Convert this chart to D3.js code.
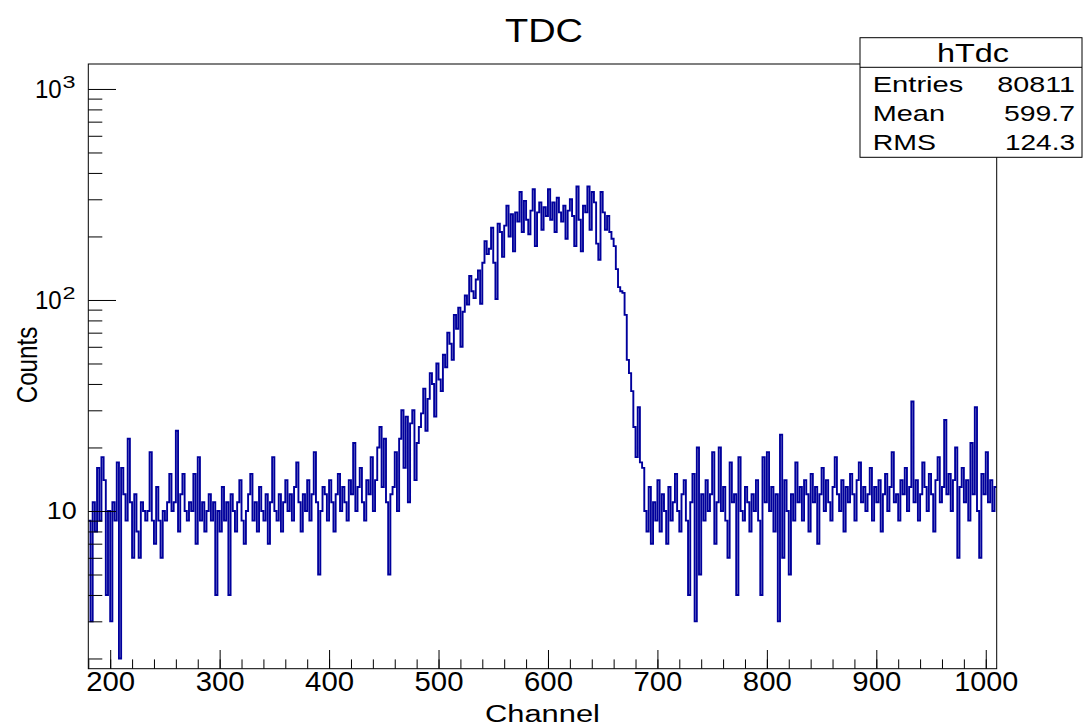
<!DOCTYPE html>
<html>
<head>
<meta charset="utf-8">
<script src="https://cdn.jsdelivr.net/npm/d3@7"></script>
<style>
  body { margin: 0; background: #fff; }
  text { font-family: "Liberation Sans", Arial, sans-serif; fill: #000; }
</style>
</head>
<body>
<div id="chart"></div>
<script>
// histogram hTdc : 2 channels per bin, from channel 180 to 1010
var binStart = 180;
var binWidth = 2;
var counts = [
  9, 3, 11, 8, 16, 9, 18, 14, 4, 10,
  3, 11, 9, 17, 2, 16, 12, 9, 22, 11,
  6, 12, 8, 6, 11, 10, 9, 10, 19, 9,
  7, 13, 9, 6, 10, 9, 11, 15, 10, 11,
  24, 8, 12, 15, 10, 9, 11, 10, 15, 7,
  18, 9, 11, 8, 10, 12, 9, 11, 4, 10,
  8, 13, 9, 11, 4, 12, 10, 8, 11, 14,
  9, 7, 10, 12, 15, 9, 11, 8, 13, 10,
  9, 12, 7, 11, 18, 10, 9, 12, 8, 11,
  14, 10, 12, 9, 13, 17, 11, 8, 12, 10,
  14, 9, 12, 19, 11, 5, 10, 13, 12, 9,
  14, 11, 8, 12, 15, 10, 13, 11, 9, 14,
  12, 21, 10, 13, 16, 11, 9, 14, 12, 18,
  10, 14, 20, 25, 13, 22, 11, 5, 12, 13,
  19, 10, 22, 30, 16, 28, 11, 26, 30, 14,
  21, 25, 29, 38, 24, 34, 45, 40, 28, 50,
  42, 37, 55, 48, 70, 62, 52, 85, 73, 92,
  60, 88, 105, 95, 130, 110, 102, 125, 138, 96,
  150, 190, 165, 175, 220, 150, 101, 230, 210, 160,
  225, 280, 200, 255, 170, 260, 235, 325, 210, 295,
  240, 205, 265, 335, 180, 260, 290, 215, 275, 250,
  335, 240, 290, 210, 305, 260, 235, 280, 195, 265,
  300, 250, 180, 345, 240, 170, 280, 260, 345, 215,
  325, 290, 185, 155, 325, 260, 215, 250, 210, 195,
  180, 140, 115, 110, 108, 85, 52, 45, 37, 25,
  18, 31, 17, 16, 10, 8, 13, 7, 11, 9,
  14, 8, 12, 10, 7, 13, 9, 11, 15, 10,
  8, 12, 14, 9, 4, 11, 15, 3, 20, 5,
  12, 9, 14, 10, 12, 19, 7, 11, 20, 10,
  13, 9, 6, 17, 11, 12, 4, 18, 10, 9,
  13, 11, 8, 12, 10, 14, 9, 4, 18, 11,
  19, 10, 13, 8, 12, 3, 23, 6, 14, 10,
  5, 12, 9, 17, 11, 13, 9, 14, 12, 8,
  15, 11, 13, 7, 12, 16, 10, 14, 11, 9,
  13, 18, 12, 10, 14, 8, 13, 11, 15, 12,
  9, 14, 17, 11, 13, 10, 12, 16, 9, 13,
  11, 14, 8, 12, 15, 10, 13, 19, 11, 12,
  9, 14, 12, 16, 10, 13, 33, 11, 14, 9,
  12, 17, 13, 10, 15, 12, 8, 14, 18, 11,
  13, 27, 12, 15, 10, 14, 20, 6, 13, 16,
  11, 14, 9, 21, 12, 31, 10, 6, 15, 12,
  19, 11, 14, 10, 13
];

var xMajor = [200, 300, 400, 500, 600, 700, 800, 900, 1000];
var xMinor = d3.range(180, 1011, 20);
var yMajor = [10, 100, 1000];
var yMinor = [2, 3, 4, 5, 6, 7, 8, 9, 20, 30, 40, 50, 60, 70, 80, 90, 200, 300, 400, 500, 600, 700, 800, 900];

var statNames = ["Entries", "Mean", "RMS"];
var statValues = ["80811", "599.7", "124.3"];

var w = 1083, h = 726;
var plotL = 88.3, plotR = 996.7, plotT = 64, plotB = 668.7;

var svg = d3.select("#chart").append("svg")
  .attr("width", w).attr("height", h);

var xScale = d3.scaleLinear()
  .domain([binStart, binStart + binWidth * counts.length])
  .range([plotL, plotR]);

var yScale = d3.scaleLog()
  .domain([1.789, 1313])
  .range([plotB, plotT]);

// text helper: font size from glyph height, width forced to what the picture shows
function label(g, str, x, y, size, len, anchor) {
  return g.append("text")
    .attr("x", x).attr("y", y)
    .attr("font-size", size)
    .attr("text-anchor", anchor || "start")
    .attr("textLength", len)
    .attr("lengthAdjust", "spacingAndGlyphs")
    .text(str);
}

// histogram as a step line
var pts = [];
counts.forEach(function (c, i) {
  var a = binStart + i * binWidth;
  pts.push([xScale(a), yScale(c)]);
  pts.push([xScale(a + binWidth), yScale(c)]);
});

svg.append("clipPath").attr("id", "clip")
  .append("rect").attr("x", plotL).attr("y", plotT)
  .attr("width", plotR - plotL).attr("height", plotB - plotT);

svg.append("path")
  .attr("d", d3.line()(pts))
  .attr("fill", "none")
  .attr("stroke", "#00009c")
  .attr("stroke-width", 1.9)
  .attr("clip-path", "url(#clip)");

// frame
svg.append("rect")
  .attr("x", plotL).attr("y", plotT)
  .attr("width", plotR - plotL).attr("height", plotB - plotT)
  .attr("fill", "none").attr("stroke", "#000").attr("stroke-width", 1);

// x axis (ticks pointing into the frame)
var xAxis = d3.axisBottom(xScale).tickValues(xMajor).tickSize(-18.7).tickPadding(3)
  .tickFormat(d3.format("d"));
var xMinorAxis = d3.axisBottom(xScale).tickValues(xMinor).tickSize(-9.3).tickFormat("");

var gx = svg.append("g").attr("transform", "translate(0," + plotB + ")").call(xAxis);
svg.append("g").attr("transform", "translate(0," + plotB + ")").call(xMinorAxis);

gx.selectAll("text")
  .attr("font-size", 27)
  .attr("font-family", "Liberation Sans, Arial, sans-serif")
  .attr("fill", "#000")
  .attr("textLength", function (d) { return d >= 1000 ? 64 : 49; })
  .attr("lengthAdjust", "spacingAndGlyphs");

// y axis (log)
var yAxis = d3.axisLeft(yScale).tickValues(yMajor).tickSize(-27.7).tickFormat("");
var yMinorAxis = d3.axisLeft(yScale).tickValues(yMinor).tickSize(-14).tickFormat("");
svg.append("g").attr("transform", "translate(" + plotL + ",0)").call(yAxis);
svg.append("g").attr("transform", "translate(" + plotL + ",0)").call(yMinorAxis);
svg.selectAll(".domain").remove();
svg.selectAll(".tick line").attr("stroke", "#000");

var gy = svg.append("g");
yMajor.forEach(function (v) {
  var yy = yScale(v);
  if (v === 10) {
    label(gy, "10", 76.7, yy + 8, 23, 30, "end");
  } else {
    label(gy, "10", 61.7, yy + 9, 25, 26.7, "end");
    label(gy, String(Math.round(Math.log10(v))), 62.5, yy - 1, 16, 13);
  }
});

// titles
label(svg, "TDC", 544, 42, 33, 78, "middle");
label(svg, "Channel", 542.5, 721.5, 23.3, 115, "middle");
label(svg, "Counts", 0, 0, 30, 76.7, "middle")
  .attr("transform", "translate(36.5,365) rotate(-90)");

// stats box
var sb = svg.append("g");
sb.append("rect")
  .attr("x", 860).attr("y", 37.7)
  .attr("width", 222).attr("height", 119.6)
  .attr("fill", "#fff").attr("stroke", "#000").attr("stroke-width", 1);
sb.append("line")
  .attr("x1", 860).attr("x2", 1082)
  .attr("y1", 67.3).attr("y2", 67.3)
  .attr("stroke", "#000");
label(sb, "hTdc", 973, 61.7, 25, 72, "middle");
var nameLen = [90.7, 72.3, 63.3];
var valLen = [77.7, 71, 70];
statNames.forEach(function (n, i) {
  var yy = 91.7 + i * 29.2;
  label(sb, n, 872.7, yy, 22, nameLen[i]);
  label(sb, statValues[i], 1075, yy, 22, valLen[i], "end");
});
</script>
</body>
</html>
